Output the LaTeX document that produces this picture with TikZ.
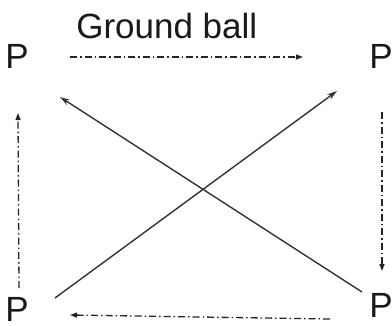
\documentclass[tikz,border=0pt]{standalone}
\usepackage{fontspec}
\setmainfont{Liberation Sans}
\usetikzlibrary{arrows.meta}
\begin{document}
\begin{tikzpicture}[x=1bp,y=-1bp,
  lbl/.style={inner sep=0pt,outer sep=0pt,anchor=base west,font=\fontsize{35bp}{42bp}\selectfont,text=black!90},
  dd/.style={line width=1.3bp,draw=black!85,dash pattern=on 7bp off 3bp on 1.5bp off 3bp,-{Triangle[length=7bp,width=5bp]}},
  solidarrow/.style={line width=1.4bp,draw=black!80,-{Stealth[length=10bp,width=6bp]}}]
\useasboundingbox (0,0) rectangle (392,326);
\node[lbl] (title) at (76.3,38) {Ground ball};
\node[lbl] (ptl) at (5.3,68) {P};
\node[lbl] (ptr) at (369.3,68) {P};
\node[lbl] (pbl) at (5.3,321.5) {P};
\node[lbl] (pbr) at (369.3,317) {P};
% endpoints
\coordinate (topS) at (70,57);
\coordinate (topE) at (303,57);
\coordinate (rgtS) at (382,112);
\coordinate (rgtE) at (382,271);
\coordinate (botS) at (330,319);
\coordinate (botE) at (70,315);
\coordinate (lftS) at (19,288);
\coordinate (lftE) at (18,113);
\coordinate (nwS) at (362,292);
\coordinate (nwE) at (60,97);
\coordinate (neS) at (55,298);
\coordinate (neE) at (337,91);
\draw[dd] (topS) -- (topE);
\draw[dd] (rgtS) -- (rgtE);
\draw[dd] (botS) -- (botE);
\draw[dd] (lftS) -- (lftE);
\draw[solidarrow] (nwS) -- (nwE);
\draw[solidarrow] (neS) -- (neE);
\end{tikzpicture}
\end{document}
